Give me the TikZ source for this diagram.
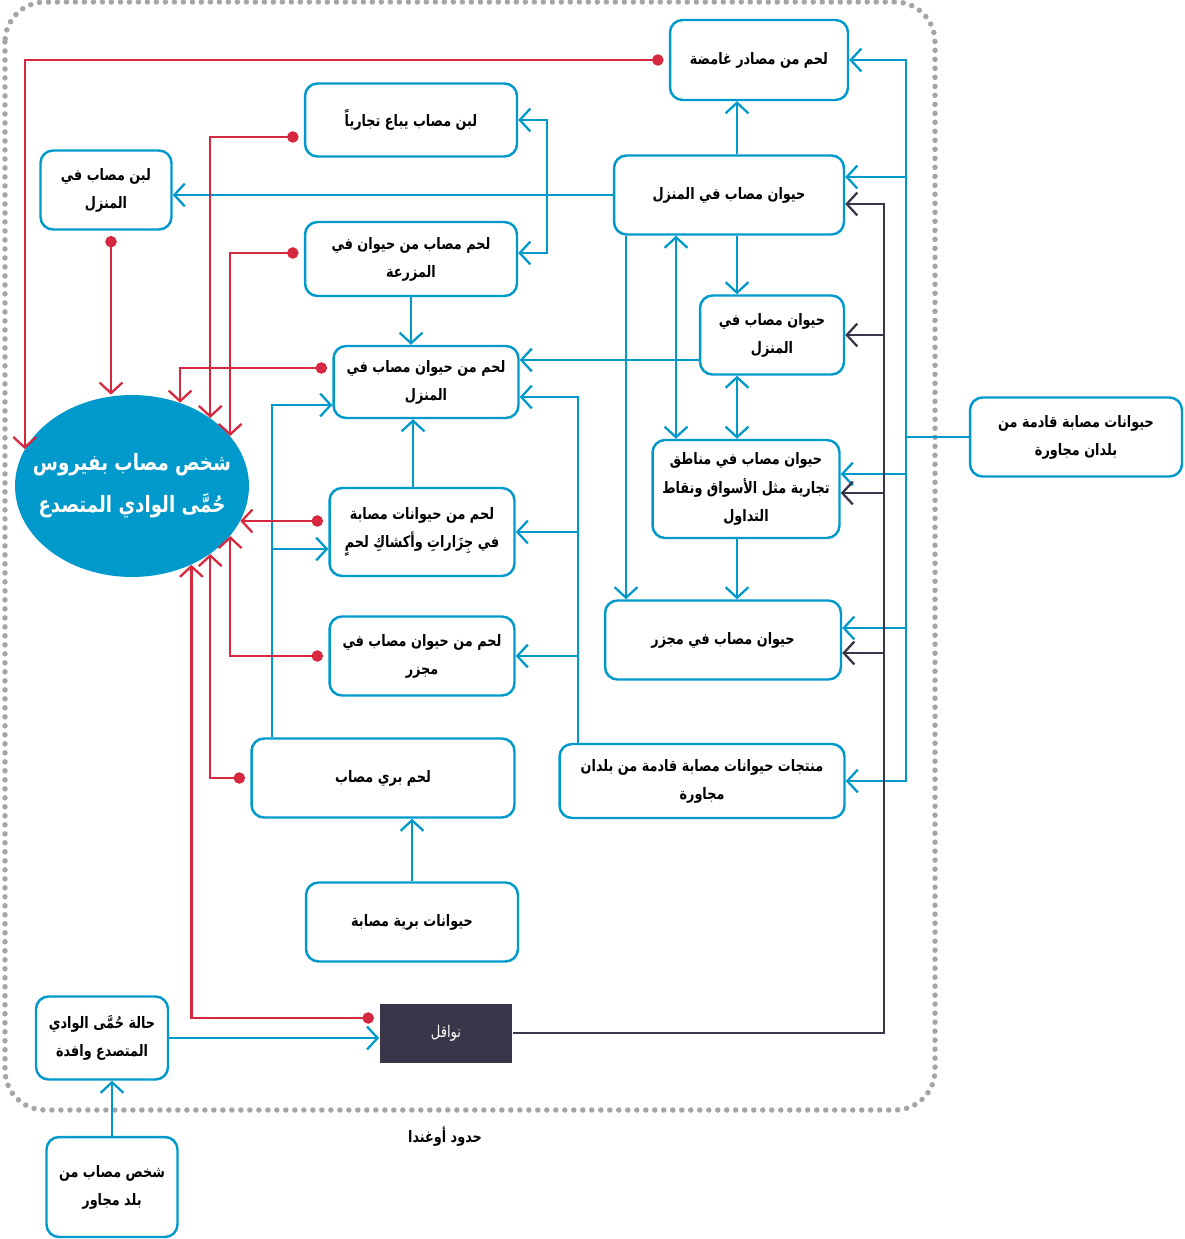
\documentclass[tikz,border=0pt]{standalone}
\usepackage{fontspec}
\usepackage{xcolor}
\usepackage{tikz}
\usetikzlibrary{shapes.geometric, arrows.meta}
\TeXXeTstate=1
\newfontfamily\arabicfont[Script=Arabic, FakeStretch=0.81]{DejaVu Sans}
\newcommand{\artext}[1]{\beginR #1\endR}
\definecolor{boxblue}{RGB}{0,153,204}
\definecolor{linkred}{RGB}{214,40,62}
\definecolor{vecdark}{RGB}{58,53,72}
\definecolor{bordergray}{RGB}{165,165,165}

\begin{document}
\begin{tikzpicture}[x=0.02cm, y=-0.02cm,
    every node/.style={font=\arabicfont\bfseries\fontsize{9}{16}\selectfont},
    box/.style={draw=boxblue, line width=1.4pt, rounded corners=0.25cm, align=center, inner sep=2pt},
    blink/.style={draw=boxblue, line width=1.3pt, -{Straight Barb[length=6pt, width=13pt]}},
    bboth/.style={blink, {Straight Barb[length=6pt, width=13pt]}-{Straight Barb[length=6pt, width=13pt]}},
    bline/.style={draw=boxblue, line width=1.3pt},
    dlink/.style={draw=vecdark, line width=1.3pt, -{Straight Barb[length=6pt, width=13pt]}},
    rlink/.style={draw=linkred, line width=1.3pt, shorten <=3pt, {Circle[length=6.5pt]}-{Straight Barb[length=6pt, width=13pt]}}]
    \useasboundingbox (0,0) rectangle (1184,1239);

    % Border of Uganda
    \draw[bordergray, line width=0.11cm, line cap=round, dash pattern=on 0pt off 0.18cm, rounded corners=0.8cm] (5,2) rectangle (935,1110);
    \node (border_label) at (445,1137) {\artext{حدود أوغندا}};

    % Person with the virus
    \node[ellipse, fill=boxblue, minimum width=4.68cm, minimum height=3.64cm, inner sep=0pt] (person) at (132,486) {};
    \node[text=white, align=center, font=\arabicfont\bfseries\fontsize{12.8}{24}\selectfont] (person_text) at (person.center) {\artext{شخص مصاب بفيروس}\\\artext{حُمَّى الوادي المتصدع}};

    % Boxes
    \node[box, minimum width=3.56cm, minimum height=1.6cm] (ghamida) at (759,60) {\artext{لحم من مصادر غامضة}};
    \node[box, minimum width=4.24cm, minimum height=1.46cm] (milk_sold) at (411,120) {\artext{لبن مصاب يباع تجارياً}};
    \node[box, minimum width=2.62cm, minimum height=1.58cm] (milk_home) at (106,190) {\artext{لبن مصاب في}\\\artext{المنزل}};
    \node[box, minimum width=4.6cm, minimum height=1.58cm] (animal_home1) at (729,195) {\artext{حيوان مصاب في المنزل}};
    \node[box, minimum width=4.24cm, minimum height=1.48cm] (farm_meat) at (411,259) {\artext{لحم مصاب من حيوان في}\\\artext{المزرعة}};
    \node[box, minimum width=2.88cm, minimum height=1.58cm] (animal_home2) at (772,335) {\artext{حيوان مصاب في}\\\artext{المنزل}};
    \node[box, minimum width=3.7cm, minimum height=1.44cm] (meat_home) at (426,382) {\artext{لحم من حيوان مصاب في}\\\artext{المنزل}};
    \node[box, minimum width=3.7cm, minimum height=1.76cm] (butcher) at (422,532) {\artext{لحم من حيوانات مصابة}\\\artext{في جِزَاراتِ وأكشاكِ لحمٍ}};
    \node[box, minimum width=3.74cm, minimum height=1.96cm] (market) at (746,489) {\artext{حيوان مصاب في مناطق}\\\artext{تجارية مثل الأسواق ونقاط}\\\artext{التداول}};
    \node[box, minimum width=3.7cm, minimum height=1.58cm] (slaughter_meat) at (422,656) {\artext{لحم من حيوان مصاب في}\\\artext{مجزر}};
    \node[box, minimum width=4.72cm, minimum height=1.58cm] (slaughter_animal) at (723,640) {\artext{حيوان مصاب في مجزر}};
    \node[box, minimum width=5.26cm, minimum height=1.58cm] (wild_meat) at (383,778) {\artext{لحم بري مصاب}};
    \node[box, minimum width=5.7cm, minimum height=1.48cm] (products) at (702,781) {\artext{منتجات حيوانات مصابة قادمة من بلدان}\\\artext{مجاورة}};
    \node[box, minimum width=4.24cm, minimum height=1.58cm] (wild_animals) at (412,922) {\artext{حيوانات برية مصابة}};
    \node[box, minimum width=2.64cm, minimum height=1.66cm] (case) at (102,1038) {\artext{حالة حُمَّى الوادي}\\\artext{المتصدع وافدة}};
    \node[fill=vecdark, text=white, minimum width=2.66cm, minimum height=1.18cm, font=\arabicfont\fontsize{9.2}{16}\selectfont] (vectors) at (446,1033) {\artext{نواقل}};
    \node[box, minimum width=2.62cm, minimum height=2cm] (neighbor) at (112,1187) {\artext{شخص مصاب من}\\\artext{بلد مجاور}};
    \node[box, minimum width=4.24cm, minimum height=1.58cm] (imported) at (1076,437) {\artext{حيوانات مصابة قادمة من}\\\artext{بلدان مجاورة}};

    % Bus points
    \path (imported.west) -- ++(-63,0) coordinate (impbus);
    \path (vectors.east) -- ++(371,0) coordinate (darkbus);
    \coordinate (milkfork) at (547,195);
    \coordinate (prodbus) at (578,397);
    \coordinate (wildbus) at (272,405);

    % Blue arrows: animals at home
    \draw[blink] ([xshift=0.16cm]animal_home1.north) -- ([xshift=0.16cm]animal_home1.north |- ghamida.south);
    \draw[blink] (animal_home1.west) -- (animal_home1.west -| milk_home.east);
    \draw[blink] (milkfork) |- (milk_sold.east);
    \draw[blink] (milkfork) |- ([yshift=0.12cm]farm_meat.east);
    \draw[blink] (farm_meat.south) -- (farm_meat.south |- meat_home.north);
    \draw[blink] ([yshift=-0.5cm]animal_home2.west) -- ([yshift=-0.5cm]animal_home2.west -| meat_home.east);
    \draw[blink] ([xshift=0.16cm]animal_home1.south) -- ([xshift=0.16cm]animal_home1.south |- animal_home2.north);
    \draw[bboth] ([xshift=0.16cm]animal_home1.south |- animal_home2.south) -- ([xshift=0.16cm]animal_home1.south |- market.north);
    \draw[bboth] ([xshift=-1.06cm]animal_home1.south) -- ([xshift=-1.06cm]animal_home1.south |- market.north);
    \draw[blink] ([xshift=-2.06cm]animal_home1.south) -- ([xshift=-2.06cm]animal_home1.south |- slaughter_animal.north);
    \draw[blink] ([xshift=0.16cm]animal_home1.south |- market.south) -- ([xshift=0.16cm]animal_home1.south |- slaughter_animal.north);

    % Blue arrows: meat
    \draw[blink] (products.north -| prodbus) |- ([yshift=-0.3cm]meat_home.east);
    \draw[blink] (prodbus |- butcher.east) -- (butcher.east);
    \draw[blink] (prodbus |- slaughter_meat.east) -- (slaughter_meat.east);
    \draw[blink] ([xshift=-0.18cm]butcher.north) -- ([xshift=-0.18cm]butcher.north |- meat_home.south);
    \draw[blink] (wild_meat.north -| wildbus) |- ([yshift=-0.46cm]meat_home.west);
    \draw[blink] ([yshift=-0.34cm]butcher.west -| wildbus) -- ([yshift=-0.34cm]butcher.west);
    \draw[blink] (wild_animals.north) -- (wild_animals.north |- wild_meat.south);

    % Blue arrows: from neighbouring countries
    \draw[bline] (imported.west) -- (impbus);
    \draw[blink] (impbus) |- (ghamida.east);
    \draw[blink] (impbus) |- (products.east);
    \draw[blink] ([yshift=0.36cm]animal_home1.east -| impbus) -- ([yshift=0.36cm]animal_home1.east);
    \draw[blink] ([yshift=0.3cm]market.east -| impbus) -- ([yshift=0.3cm]market.east);
    \draw[blink] ([yshift=0.24cm]slaughter_animal.east -| impbus) -- ([yshift=0.24cm]slaughter_animal.east);
    \draw[blink] (case.east) -- (case.east -| vectors.west);
    \draw[blink] (neighbor.north) -- (neighbor.north |- case.south);

    % Vectors
    \draw[dlink] (vectors.east) -- (darkbus) |- ([yshift=-0.18cm]animal_home1.east);
    \draw[dlink] (animal_home2.east -| darkbus) -- (animal_home2.east);
    \draw[dlink] ([yshift=-0.08cm]market.east -| darkbus) -- ([yshift=-0.08cm]market.east);
    \draw[dlink] ([yshift=-0.26cm]slaughter_animal.east -| darkbus) -- ([yshift=-0.26cm]slaughter_animal.east);

    % Red arrows to the person
    \draw[rlink] (ghamida.west) -| (person.161);
    \draw[rlink] ([yshift=-0.34cm]milk_sold.west) -| (person.41);
    \draw[rlink] ([yshift=0.12cm]farm_meat.west) -| (person.27);
    \draw[rlink] ([xshift=0.1cm]milk_home.south) -- ([xshift=0.1cm]milk_home.south |- person.north);
    \draw[rlink] ([yshift=0.28cm]meat_home.west) -| (person.60);
    \draw[rlink] ([yshift=0.22cm]butcher.west) -- ([yshift=0.22cm]butcher.west -| person.-18);
    \draw[rlink] (slaughter_meat.west) -| (person.-27);
    \draw[rlink] (wild_meat.west) -| (person.-41);
    \draw[rlink] ([yshift=0.3cm]vectors.west) -| (person.-53);
\end{tikzpicture}
\end{document}
